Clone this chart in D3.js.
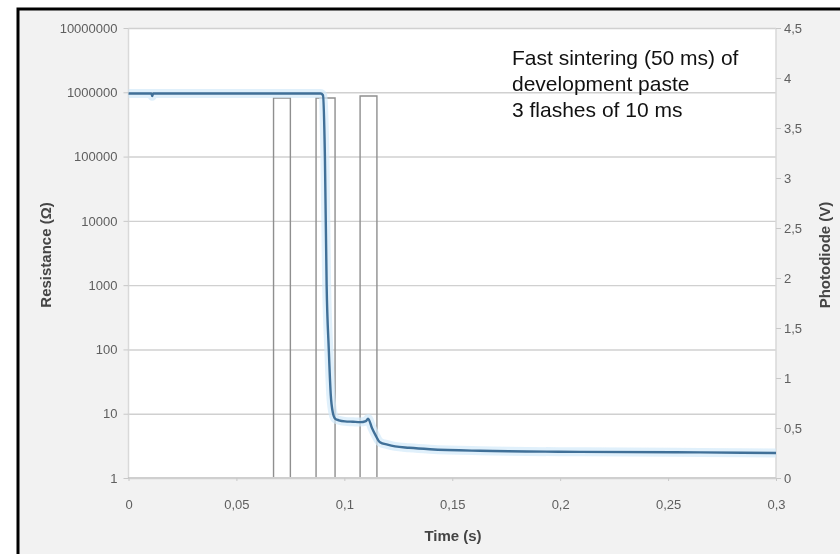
<!DOCTYPE html>
<html>
<head>
<meta charset="utf-8">
<script src="https://cdn.jsdelivr.net/npm/d3@7"></script>
<style>
  html, body { margin: 0; padding: 0; background: #ffffff; }
  svg { display: block; }
  .tick text { font-family: "Liberation Sans", Arial, sans-serif; }
</style>
</head>
<body>
<svg id="chart" width="840" height="554"></svg>
<script>
// Time axis (s)
const timeTicks = [0, 0.05, 0.1, 0.15, 0.2, 0.25, 0.3];
const timeTickLabels = ["0", "0,05", "0,1", "0,15", "0,2", "0,25", "0,3"];

// Resistance axis (Ohm, log)
const resTicks = [1, 10, 100, 1000, 10000, 100000, 1000000, 10000000];
const resTickLabels = ["1", "10", "100", "1000", "10000", "100000", "1000000", "10000000"];

// Photodiode axis (V)
const voltTicks = [0, 0.5, 1, 1.5, 2, 2.5, 3, 3.5, 4, 4.5];
const voltTickLabels = ["0", "0,5", "1", "1,5", "2", "2,5", "3", "3,5", "4", "4,5"];

// Measured resistance during sintering
const resTime = [0, 0.0106, 0.0110, 0.0114, 0.0500, 0.0890, 0.0901, 0.0910, 0.0918, 0.0928,
                 0.0937, 0.0947, 0.0957, 0.0975, 0.1003, 0.1040, 0.1073, 0.1100,
                 0.1110, 0.1128, 0.1145, 0.1165, 0.1200, 0.1235, 0.1300, 0.1397,
                 0.1629, 0.2092, 0.2648, 0.3000];
const resValue = [960000, 960000, 870000, 960000, 960000, 960000, 900000, 100000, 1000, 100,
                  20, 10.3, 8.4, 7.9, 7.6, 7.5, 7.4, 7.7,
                  8.4, 6.0, 4.6, 3.6, 3.3, 3.1, 2.95, 2.8,
                  2.65, 2.55, 2.5, 2.45];

// Photodiode signal: three flashes
const pdTime = [0, 0.0672, 0.0672, 0.0750, 0.0750, 0.0869, 0.0869, 0.0957, 0.0957,
                0.1073, 0.1073, 0.1151, 0.1151, 0.3000];
const pdVolt = [0, 0, 3.8, 3.8, 0, 0, 3.8, 3.8, 0,
                0, 3.82, 3.82, 0, 0];

const annotationLines = ["Fast sintering (50 ms) of", "development paste", "3 flashes of 10 ms"];

const svg = d3.select("#chart");

// slight softening of the plotted chart
svg.append("defs").append("filter").attr("id", "soft")
  .append("feGaussianBlur").attr("stdDeviation", 0.5);

// frame and chart area background
svg.append("rect").attr("x", 18).attr("y", 9).attr("width", 840).attr("height", 560)
  .attr("fill", "#f2f2f2").attr("stroke", "#000").attr("stroke-width", 3);

const plotL = 128.5, plotR = 776, plotT = 28, plotB = 478;

const x = d3.scaleLinear().domain([0, 0.3]).range([plotL, plotR]);
const yR = d3.scaleLog().domain([1, 1e7]).range([plotB, plotT]);
const yV = d3.scaleLinear().domain([0, 4.5]).range([plotB, plotT]);

const chart = svg.append("g").attr("filter", "url(#soft)");

chart.append("rect").attr("x", plotL).attr("y", plotT)
  .attr("width", plotR - plotL).attr("height", plotB - plotT).attr("fill", "#ffffff");

// horizontal gridlines at each decade
const grid = chart.append("g").attr("transform", `translate(${plotL},0)`)
  .call(d3.axisLeft(yR).tickValues(resTicks).tickSize(-(plotR - plotL)).tickFormat(""));
grid.select(".domain").remove();
grid.selectAll("line").attr("stroke", "#d0d0d0").attr("stroke-width", 1.4);

// plot area edges
chart.append("line").attr("x1", plotL).attr("x2", plotL).attr("y1", plotT).attr("y2", plotB)
  .attr("stroke", "#d9d9d9").attr("stroke-width", 1.5);
chart.append("line").attr("x1", plotR).attr("x2", plotR).attr("y1", plotT).attr("y2", plotB)
  .attr("stroke", "#d9d9d9").attr("stroke-width", 1.5);

// photodiode trace
const pdData = pdTime.map((t, i) => [t, pdVolt[i]]);
chart.append("path").datum(pdData)
  .attr("fill", "none").attr("stroke", "#8f8f8f").attr("stroke-width", 1.4)
  .attr("d", d3.line().x(d => x(d[0])).y(d => yV(d[1])));

// bottom axis line
chart.append("line").attr("x1", plotL).attr("x2", plotR).attr("y1", plotB).attr("y2", plotB)
  .attr("stroke", "#cfcfcf").attr("stroke-width", 2);

// resistance trace with soft glow
const resData = resTime.map((t, i) => [t, resValue[i]]);
const resLine = d3.line().x(d => x(d[0])).y(d => yR(d[1])).curve(d3.curveMonotoneX);
chart.append("path").datum(resData)
  .attr("fill", "none").attr("stroke", "#d3eaf9").attr("stroke-width", 9)
  .attr("stroke-opacity", 0.7).attr("stroke-linejoin", "round")
  .attr("d", resLine);
chart.append("path").datum(resData)
  .attr("fill", "none").attr("stroke", "#3f6f98").attr("stroke-width", 2.4)
  .attr("stroke-linejoin", "round")
  .attr("d", resLine);

// axes
function styleAxis(g) {
  g.select(".domain").remove();
  g.selectAll(".tick line").attr("stroke", "#c8c8c8");
  g.selectAll(".tick text").attr("fill", "#5e5e5e").attr("font-size", 13);
}

const axL = chart.append("g").attr("transform", `translate(${plotL},0)`)
  .call(d3.axisLeft(yR).tickValues(resTicks).tickSize(5).tickPadding(6)
    .tickFormat((d, i) => resTickLabels[i]));
styleAxis(axL);

const axR = chart.append("g").attr("transform", `translate(${plotR},0)`)
  .call(d3.axisRight(yV).tickValues(voltTicks).tickSize(5).tickPadding(3)
    .tickFormat((d, i) => voltTickLabels[i]));
styleAxis(axR);

const axB = chart.append("g").attr("transform", `translate(0,${plotB})`)
  .call(d3.axisBottom(x).tickValues(timeTicks).tickSize(3).tickPadding(19)
    .tickFormat((d, i) => timeTickLabels[i]));
styleAxis(axB);

// axis titles
const titleFont = "'Liberation Sans', Arial, sans-serif";
chart.append("text").attr("transform", "translate(51,255) rotate(-90)")
  .attr("text-anchor", "middle").attr("font-family", titleFont).attr("font-weight", "bold")
  .attr("font-size", 15).attr("fill", "#444").text("Resistance (Ω)");
chart.append("text").attr("transform", "translate(830,255) rotate(-90)")
  .attr("text-anchor", "middle").attr("font-family", titleFont).attr("font-weight", "bold")
  .attr("font-size", 15).attr("fill", "#444").text("Photodiode (V)");
chart.append("text").attr("x", 453).attr("y", 541)
  .attr("text-anchor", "middle").attr("font-family", titleFont).attr("font-weight", "bold")
  .attr("font-size", 15).attr("fill", "#444").text("Time (s)");

// annotation
const note = svg.append("text").attr("font-family", "'Liberation Sans', Arial, sans-serif")
  .attr("font-size", 21).attr("fill", "#111");
annotationLines.forEach((s, i) => {
  note.append("tspan").attr("x", 512).attr("y", 65 + i * 26).text(s);
});
</script>
</body>
</html>
